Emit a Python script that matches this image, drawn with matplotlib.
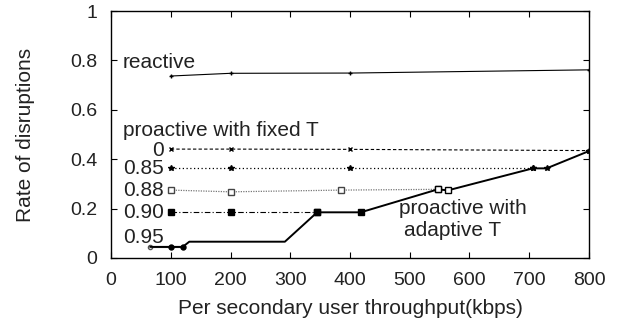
import matplotlib.pyplot as plt

plt.rcParams['font.family'] = ['Liberation Sans', 'DejaVu Sans']

# reactive
react_x = [100, 200, 400, 800]
react_y = [0.737, 0.748, 0.749, 0.762]

# proactive with fixed T
fix0_x = [100, 200, 400, 800]
fix0_y = [0.441, 0.441, 0.440, 0.435]
fix85_x = [100, 200, 400, 706]
fix85_y = [0.363, 0.363, 0.363, 0.363]
fix88_x = [100, 200, 385, 547]
fix88_y = [0.275, 0.268, 0.275, 0.278]
fix90_x = [100, 200, 345]
fix90_y = [0.186, 0.186, 0.186]
fix95_x = [66, 100, 120]
fix95_y = [0.045, 0.045, 0.045]

# proactive with adaptive T
adapt_x = [66, 100, 120, 131, 291, 345, 418, 547, 564, 706, 729, 800]
adapt_y = [0.045, 0.045, 0.045, 0.066, 0.066, 0.185, 0.185, 0.278, 0.274, 0.363, 0.363, 0.433]

fig = plt.figure(figsize=(6.33, 3.26), dpi=100)
ax = fig.add_axes([0.1754, 0.2086, 0.755, 0.7574])

ax.plot(react_x, react_y, color='black', lw=0.8, marker='+', ms=3)
ax.plot(fix0_x, fix0_y, color='black', lw=0.8, ls=(0, (3, 2)), marker='x', ms=3)
ax.plot(fix85_x, fix85_y, color='black', lw=0.9, ls=(0, (1, 2)), marker='*', ms=4)
ax.plot(fix88_x, fix88_y, color='#777777', lw=0.9, ls=(0, (1, 1)), marker='s', ms=4,
        mfc='white', mec='#444444')
ax.plot(fix90_x, fix90_y, color='black', lw=0.8, ls=(0, (5, 2, 1, 2)), marker='s', ms=4.5)
ax.plot(fix95_x, fix95_y, color='#555555', lw=0.8, marker='o', ms=3, mfc='white')
ax.plot(adapt_x, adapt_y, color='black', lw=1.4)

# adaptive markers
ax.plot(adapt_x[1:3], adapt_y[1:3], ls='none', marker='o', ms=3.5, color='black')
ax.plot(adapt_x[5:7], adapt_y[5:7], ls='none', marker='s', ms=4.5, color='black')
ax.plot(adapt_x[7:9], adapt_y[7:9], ls='none', marker='s', ms=4, mfc='white', mec='black')
ax.plot(adapt_x[9:12], adapt_y[9:12], ls='none', marker='*', ms=4, color='black')

ax.text(20, 0.79, 'reactive', fontsize=15, va='center', color='#222222')
ax.text(20, 0.515, 'proactive with fixed T', fontsize=15, va='center', color='#222222')
for lab, yv in [('0', 0.437), ('0.85', 0.363), ('0.88', 0.275), ('0.90', 0.186), ('0.95', 0.085)]:
    ax.text(88, yv, lab, fontsize=15, ha='right', va='center', color='#222222')
ax.text(482, 0.2, 'proactive with', fontsize=15, va='center', color='#222222')
ax.text(490, 0.113, 'adaptive T', fontsize=15, va='center', color='#222222')

ax.set_xlim(0, 800)
ax.set_ylim(0, 1)
ax.set_xticks(range(0, 801, 100))
ax.set_yticks([0, 0.2, 0.4, 0.6, 0.8, 1])
ax.set_yticklabels(['0', '0.2', '0.4', '0.6', '0.8', '1'])
ax.tick_params(direction='in', top=True, right=True, labelsize=14, length=4, pad=10,
               labelcolor='#222222')
ax.set_xlabel('Per secondary user throughput(kbps)', fontsize=15, labelpad=7, color='#222222')
ax.set_ylabel('Rate of disruptions', fontsize=15, labelpad=25, color='#222222')
for s in ax.spines.values():
    s.set_linewidth(1.0)

fig.savefig('out.png', dpi=100)
